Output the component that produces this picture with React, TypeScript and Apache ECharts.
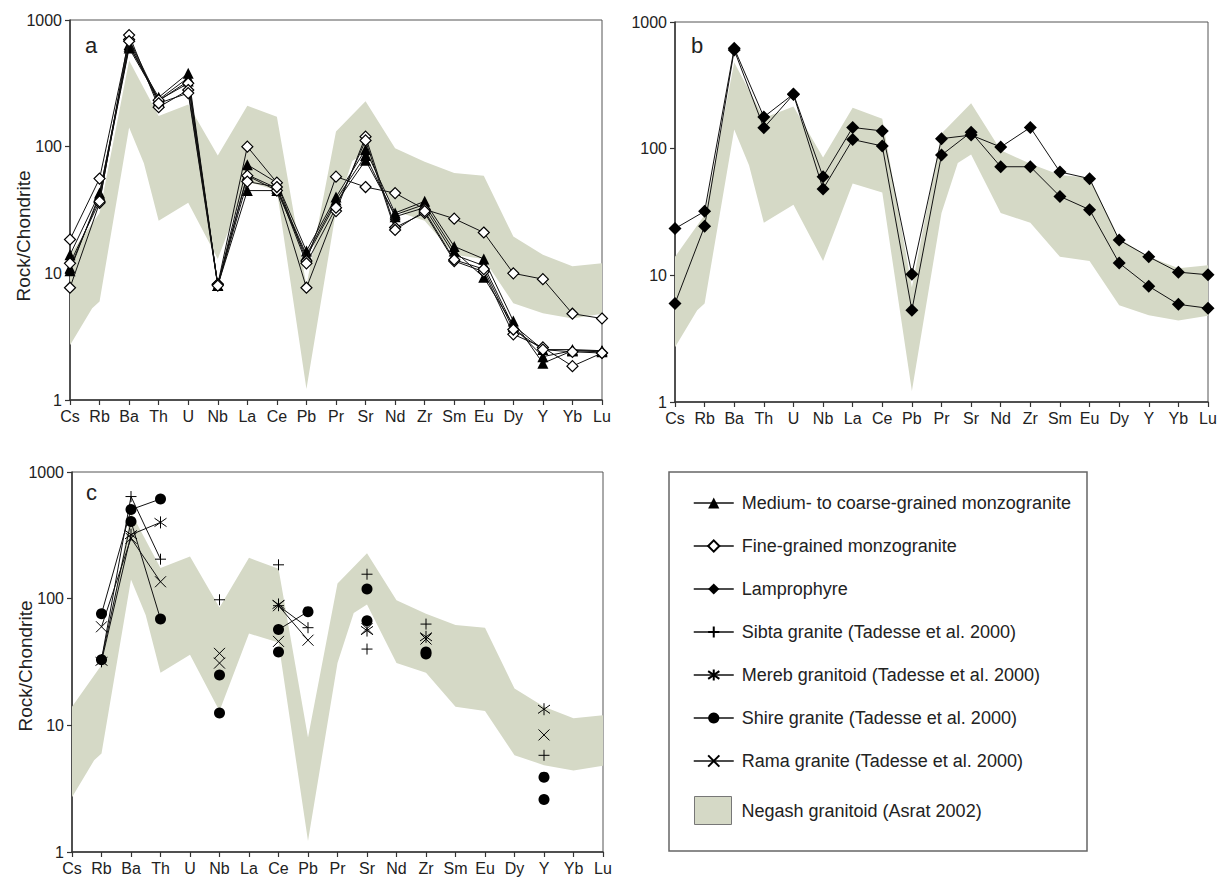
import React, { useEffect, useRef } from 'react';
import * as echarts from 'echarts';

const elements = ['Cs', 'Rb', 'Ba', 'Th', 'U', 'Nb', 'La', 'Ce', 'Pb', 'Pr', 'Sr', 'Nd', 'Zr', 'Sm', 'Eu', 'Dy', 'Y', 'Yb', 'Lu'];
const yTickLabels = ['1', '10', '100', '1000'];

// Negash granitoid envelope (Asrat 2002): [element position, value]
const bandUpper = [[0, 14], [1, 30], [2, 480], [3, 175], [4, 215], [5, 85], [6, 210], [7, 172], [8, 8], [9, 132], [10, 228], [11, 97], [12, 76], [13, 62], [14, 59], [15, 19.5], [16, 14], [17, 11.4], [18, 12]];
const bandLower = [[0, 2.7], [0.75, 5.3], [1, 6], [2, 142], [2.5, 74], [3, 26], [4, 36], [5, 13], [6, 53], [7, 45], [8, 1.22], [9, 31], [9.55, 77], [10, 90], [11, 31], [12, 26], [13, 14], [14, 13], [15, 5.8], [16, 4.85], [17, 4.4], [18, 4.8]];

// Panel a: medium- to coarse-grained monzogranite (triangles)
const medCoarse1 = [14, 43, 620, 245, 380, 8, 72, 52, 15, 40, 95, 30, 37, 16.3, 13, 4.2, 1.95, 2.45, 2.45];
const medCoarse2 = [11, 40, 600, 235, 350, 8, 45, 45, 13.5, 36, 78, 29, 35, 15, 9.3, 3.9, 2.5, 2.5, 2.45];
const medCoarse3 = [10.5, 42, 640, 230, 330, 8, 60, 47, 14, 38, 85, 28, 33, 14, 11.5, 3.8, 2.2, 2.45, 2.4];
// Panel a: fine-grained monzogranite (open diamonds)
const fine1 = [18.5, 56, 700, 233, 316, 8.2, 100, 52, 12.5, 58, 48, 43, 32, 27, 21, 10, 9, 4.8, 4.4];
const fine2 = [7.7, 36, 760, 205, 280, 8.2, 59, 45, 7.7, 31, 120, 23, 30, 12.5, 10.3, 3.3, 2.6, 1.85, 2.35];
const fine3 = [12, 37, 680, 220, 265, 8, 53, 48, 12, 33, 112, 22, 31, 12.8, 10.8, 3.6, 2.5, 2.4, 2.35];
// Panel b: lamprophyre
const lamp1 = [23.4, 32, 620, 178, 270, 60, 147, 138, 10.2, 120, 128, 103, 147, 65.5, 58, 19, 14, 10.6, 10.1];
const lamp2 = [6.0, 24.4, 600, 146, 268, 48, 118, 105, 5.3, 89, 135, 72, 72, 42, 33, 12.5, 8.2, 5.9, 5.5];
// Panel c (Tadesse et al. 2000)
const n = null;
const sibta1 = [n, 33, 640, 205, n, 98, n, 185, n, n, 156, n, 63, n, n, n, 5.8, n, n];
const sibta2 = [n, n, n, n, n, n, n, 88, 59, n, 40, n, n, n, n, n, n, n, n];
const mereb1 = [n, 32, 320, 400, n, n, n, 90, n, n, 56, n, 50, n, n, n, 13.4, n, n];
const shire1 = [n, 76, 505, 612, n, 25, n, 57, 79, n, 119, n, 38, n, n, n, 3.9, n, n];
const shire2 = [n, 33, 406, 69, n, 12.5, n, 38, n, n, 67, n, 36.5, n, n, n, 2.6, n, n];
const rama1 = [n, 60, 300, 136, n, 37, n, 88, 47, n, 58, n, 48, n, n, n, 8.4, n, n];
const rama2 = [n, n, n, n, n, 31, n, 46, n, n, n, n, n, n, n, n, n, n, n];

const NAME_MED = 'Medium- to coarse-grained monzogranite';
const NAME_FINE = 'Fine-grained monzogranite';
const NAME_LAMP = 'Lamprophyre';
const NAME_SIBTA = 'Sibta granite (Tadesse et al. 2000)';
const NAME_MEREB = 'Mereb granitoid (Tadesse et al. 2000)';
const NAME_SHIRE = 'Shire granite (Tadesse et al. 2000)';
const NAME_RAMA = 'Rama granite (Tadesse et al. 2000)';
const NAME_BAND = 'Negash granitoid (Asrat 2002)';

const FONT = '"Liberation Sans", Arial, Helvetica, sans-serif';
const BAND_COLOR = '#d5d9c6';
const PLUS = 'path://M5,0L5,10M0,5L10,5';
const ASTER = 'path://M5,0L5,10M1,1.5L9,8.5M1,8.5L9,1.5';
const CROSS = 'path://M0,0L10,10M0,10L10,0';

const grids = [
  { left: 70, top: 20, width: 532, height: 380 },
  { left: 675, top: 22, width: 533, height: 380 },
  { left: 72, top: 472, width: 531, height: 380 },
];

function lineSeries(name: string, values: (number | null)[], g: number, symbol: string, symbolSize: number, itemStyle: any, z = 3) {
  return {
    type: 'line',
    name,
    xAxisIndex: g,
    yAxisIndex: g,
    data: values.map((v, i) => [i, v == null ? '-' : v]),
    symbol,
    symbolSize,
    showSymbol: true,
    connectNulls: false,
    lineStyle: { color: '#111', width: 1 },
    itemStyle,
    z,
    emphasis: { disabled: true },
  };
}

function bandSeries(g: number) {
  return {
    type: 'custom',
    name: NAME_BAND,
    xAxisIndex: g,
    yAxisIndex: g,
    z: 1,
    itemStyle: { color: BAND_COLOR },
    data: [[0, 10]],
    silent: true,
    renderItem: (_params: any, api: any) => {
      const pts = bandUpper.map((p) => api.coord(p)).concat(bandLower.slice().reverse().map((p) => api.coord(p)));
      return { type: 'polygon', shape: { points: pts }, style: { fill: BAND_COLOR } };
    },
  };
}

const triStyle = { color: '#000' };
const openDia = { color: '#fff', borderColor: '#000', borderWidth: 1.2 };
const fillDia = { color: '#000' };
const strokeSym = { color: '#000', borderColor: '#000', borderWidth: 1 };
const circ = { color: '#000' };

export default function App() {
  const ref = useRef<HTMLDivElement>(null);
  useEffect(() => {
    if (!ref.current) return;
    const chart = echarts.init(ref.current, undefined, { renderer: 'svg' });
    const xAxes = grids.map((_, i) => ({
      type: 'value',
      gridIndex: i,
      min: 0,
      max: 18,
      interval: 1,
      axisLine: { show: true, onZero: false, lineStyle: { color: '#333', width: 1.5 } },
      axisTick: { show: true, length: 5, lineStyle: { color: '#333', width: 1.2 } },
      axisLabel: {
        formatter: (v: number) => elements[Math.round(v)] ?? '',
        margin: 8,
        fontSize: 16,
        color: '#222',
        fontFamily: FONT,
        showMinLabel: true,
        showMaxLabel: true,
      },
      splitLine: { show: false },
    }));
    const yAxes = grids.map((_, i) => ({
      type: 'log',
      logBase: 10,
      gridIndex: i,
      min: 1,
      max: 1000,
      axisLine: { show: true, onZero: false, lineStyle: { color: '#333', width: 1.5 } },
      axisTick: { show: true, length: 5, lineStyle: { color: '#333', width: 1.2 } },
      minorTick: { show: false },
      axisLabel: {
        formatter: (v: number) => yTickLabels[Math.round(Math.log10(v))] ?? '',
        margin: 8,
        fontSize: 16,
        color: '#222',
        fontFamily: FONT,
      },
      splitLine: { show: false },
      name: i === 1 ? '' : 'Rock/Chondrite',
      nameLocation: 'middle',
      nameGap: 37,
      nameMoveOverlap: false,
      nameRotate: 90,
      nameTextStyle: { fontSize: 19, color: '#222', fontFamily: FONT, padding: i === 0 ? [0, 52, 0, 0] : [0, 8, 0, 0] },
    }));

    const series: any[] = [
      bandSeries(0),
      bandSeries(1),
      bandSeries(2),
      lineSeries(NAME_MED, medCoarse1, 0, 'triangle', 11, triStyle),
      lineSeries(NAME_MED, medCoarse2, 0, 'triangle', 11, triStyle),
      lineSeries(NAME_MED, medCoarse3, 0, 'triangle', 11, triStyle),
      lineSeries(NAME_FINE, fine1, 0, 'diamond', 11, openDia, 4),
      lineSeries(NAME_FINE, fine2, 0, 'diamond', 11, openDia, 4),
      lineSeries(NAME_FINE, fine3, 0, 'diamond', 11, openDia, 4),
      lineSeries(NAME_LAMP, lamp1, 1, 'diamond', 13, fillDia),
      lineSeries(NAME_LAMP, lamp2, 1, 'diamond', 13, fillDia),
      lineSeries(NAME_SIBTA, sibta1, 2, PLUS, 11, strokeSym),
      lineSeries(NAME_SIBTA, sibta2, 2, PLUS, 11, strokeSym),
      lineSeries(NAME_MEREB, mereb1, 2, ASTER, 12, strokeSym),
      lineSeries(NAME_SHIRE, shire1, 2, 'circle', 11, circ),
      lineSeries(NAME_SHIRE, shire2, 2, 'circle', 11, circ),
      lineSeries(NAME_RAMA, rama1, 2, CROSS, 11, strokeSym),
      lineSeries(NAME_RAMA, rama2, 2, CROSS, 11, strokeSym),
    ];

    chart.setOption({
      animation: false,
      backgroundColor: '#fff',
      textStyle: { fontFamily: FONT },
      grid: grids.map((g) => ({ ...g, show: true, borderColor: '#555', borderWidth: 1, backgroundColor: 'transparent' })),
      xAxis: xAxes,
      yAxis: yAxes,
      legend: [
        {
          data: [NAME_MED, NAME_FINE, NAME_LAMP, NAME_SIBTA, NAME_MEREB, NAME_SHIRE, NAME_RAMA],
          orient: 'vertical',
          left: 688,
          top: 488,
          itemWidth: 40,
          itemHeight: 14,
          itemGap: 23,
          selectedMode: false,
          lineStyle: { width: 1.5 },
          textStyle: { fontSize: 18, color: '#222', fontFamily: FONT, lineHeight: 20, padding: [0, 0, 0, 3] },
        },
        {
          data: [{ name: NAME_BAND, icon: 'rect', itemStyle: { color: BAND_COLOR, borderColor: '#777', borderWidth: 1 } }],
          orient: 'vertical',
          left: 689,
          top: 791,
          itemWidth: 37,
          itemHeight: 28,
          selectedMode: false,
          textStyle: { fontSize: 18, color: '#222', fontFamily: FONT, lineHeight: 20, padding: [0, 0, 0, 5] },
        },
      ],
      graphic: [
        { type: 'text', x: 85, y: 45, style: { text: 'a', font: `22px ${FONT}`, fill: '#222', verticalAlign: 'middle' } },
        { type: 'text', x: 691, y: 45, style: { text: 'b', font: `22px ${FONT}`, fill: '#222', verticalAlign: 'middle' } },
        { type: 'text', x: 86, y: 492, style: { text: 'c', font: `22px ${FONT}`, fill: '#222', verticalAlign: 'middle' } },
        { type: 'rect', shape: { x: 669, y: 472, width: 418, height: 379 }, style: { fill: 'none', stroke: '#666', lineWidth: 1.5 } },
      ],
      series,
    });
    return () => chart.dispose();
  }, []);
  return <div ref={ref} style={{ position: 'fixed', left: 0, top: 0, width: 1229, height: 884, background: '#fff' }} />;
}
